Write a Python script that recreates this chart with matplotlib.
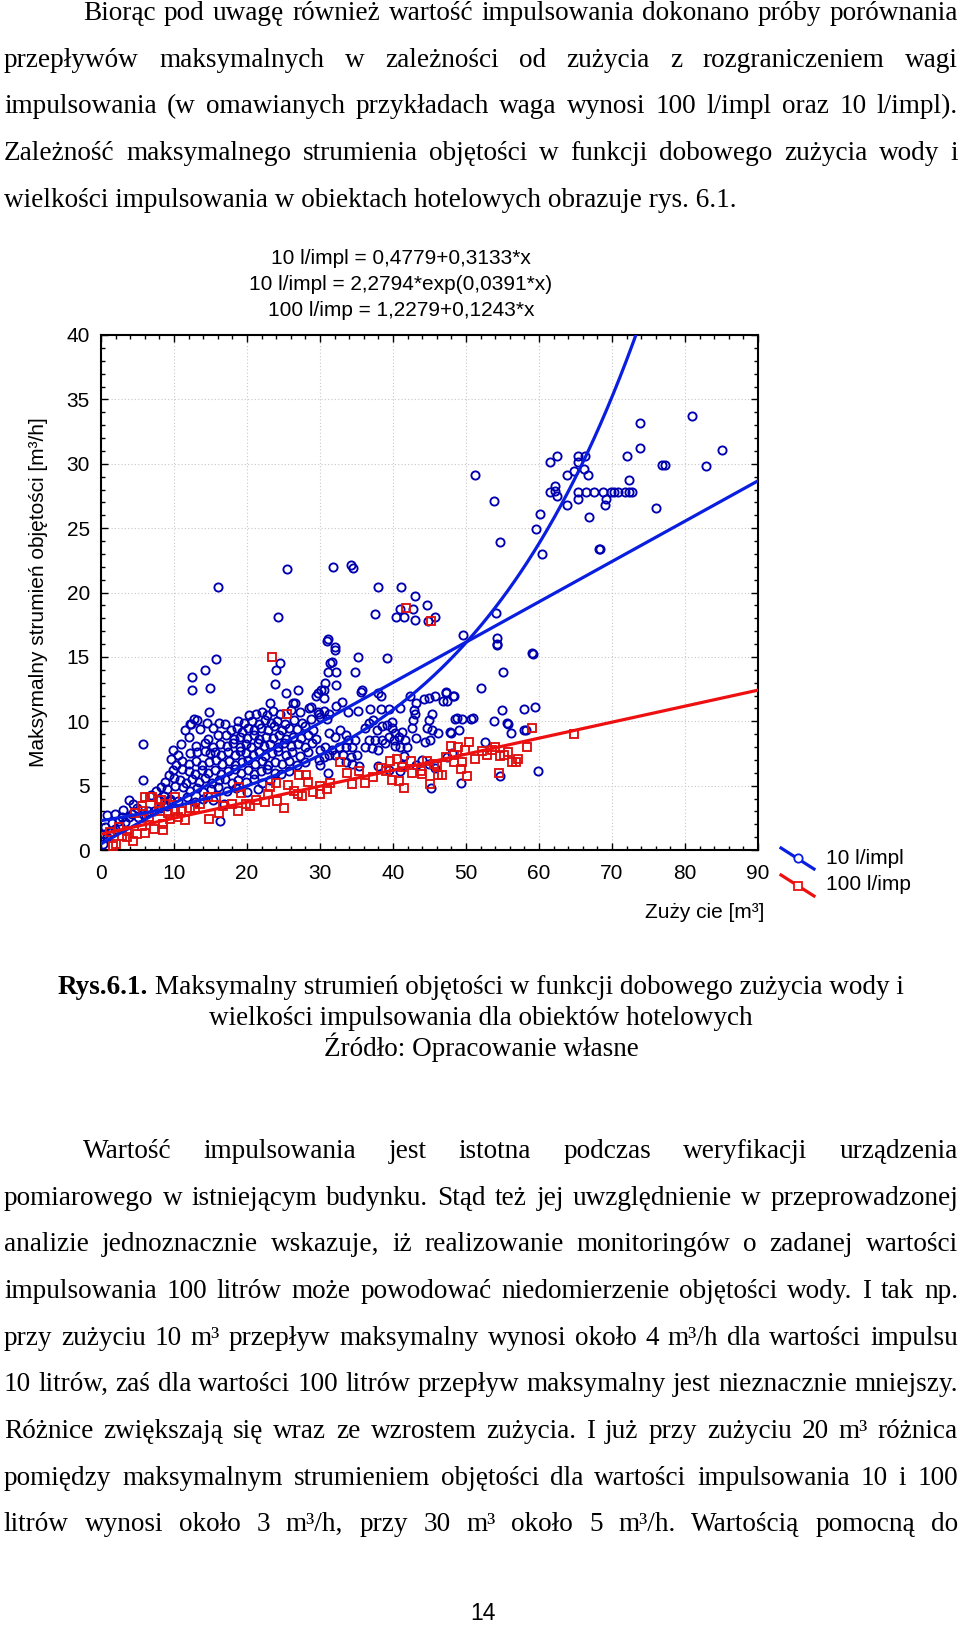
import matplotlib
matplotlib.use('Agg')
import matplotlib.pyplot as plt
from matplotlib.lines import Line2D
from matplotlib.ticker import MultipleLocator
import numpy as np

# ---------------- data ----------------
blue_upper = [(80.9,33.7),(73.9,33.2),(73.8,31.2),(85.1,31.1),(72.0,30.6),(72.3,28.7),(76.8,29.9),(77.3,29.9),
    (82.9,29.8),(76.0,26.6),(68.3,23.4),(51.3,29.1),(53.9,27.1),(54.6,23.9),(61.5,30.1),(62.5,30.6),(62.2,28.3),
    (62.2,27.9),(61.5,27.8),(62.5,27.5),(63.9,29.1),(64.8,29.4),(65.4,30.6),(66.3,30.6),(65.4,30.1),(66.2,29.6),
    (66.7,29.1),(65.4,27.8),(65.4,27.3),(66.4,27.8),(67.6,27.8),(68.8,27.8),(69.9,27.8),(70.3,27.8),(70.8,27.8),
    (71.8,27.8),(72.3,27.8),(72.7,27.8),(69.2,27.3),(69.0,26.8),(63.9,26.8),(66.9,25.9),(60.1,26.1),(59.6,24.9),
    (60.4,23.0),(68.2,23.4)]
blue_mid_high = [(16.0,20.4),(25.5,21.8),(31.8,22.0),(34.3,22.1),(34.5,21.9),(37.9,20.4),(41.1,20.4),(43.0,19.7),
    (44.6,19.0),(24.3,18.1),(37.6,18.3),(40.4,18.1),(41.5,18.1),(40.9,18.75),(42.7,18.7),(43.0,17.9),(44.8,17.8),
    (45.8,18.1),(49.6,16.7),(54.3,16.5),(54.3,16.0),(54.1,18.4),(59.2,15.2),(15.7,14.8),(14.2,14.0),(12.4,13.4),
    (12.4,12.4),(14.9,12.6),(14.8,10.75),(12.8,10.2),(12.2,9.8),(24.5,14.5),(24.0,14.0),(23.8,12.9),(25.4,12.2),
    (27.0,12.4),(23.2,11.4),(26.3,11.4),(26.6,11.4),(29.5,12.0),(30.1,12.4),(28.8,11.1),(29.7,10.7),(5.7,8.2),
    (5.7,5.4),(16.3,2.25),(47.3,12.25),(48.2,12.0),(52.0,12.6),(55.0,13.8),(58.0,10.95),(59.4,11.1),(54.9,10.9)]
blue_mid = [(30.9,16.2),(32.1,15.8),(32.0,15.5),(31.4,14.5),(31.7,14.6),(31.1,13.85),(32.2,13.8),(35.2,15.0),
    (39.2,14.9),(34.8,13.8),(32.2,12.8),(30.7,13.0),(30.6,12.4),(35.8,12.4),(29.7,12.2),(30.5,11.8),(38.0,12.2),
    (38.4,12.0),(33.0,11.5),(32.2,11.2),(29.8,10.6),(30.5,10.8),(31.2,10.6),(30.0,10.3),(31.0,10.2),(33.9,10.75),
    (35.2,10.8),(36.9,10.95),(38.3,10.95),(39.4,10.95),(41.0,11.0),(42.3,12.0),(43.1,11.45),(44.2,11.7),(44.9,11.8),
    (45.7,11.96),(47.2,12.2),(47.4,11.6),(48.3,11.96),(46.9,11.6),(42.9,10.9),(43.0,10.6),(42.8,10.1),(42.6,9.5),
    (45.3,10.6),(44.9,10.1),(48.5,10.2),(49.5,10.2),(50.7,10.2),(49.1,9.3),(47.8,9.2),(44.6,9.45),(45.4,9.3),
    (46.1,9.1),(43.1,8.7),(44.4,8.4),(45.1,8.55),(54.2,15.9),(59.1,15.3),(53.8,10.0),(55.6,9.9),(56.1,9.06),
    (57.9,9.3),(58.2,9.3),(52.6,8.4),(59.9,6.14),(54.7,5.75),(49.3,5.2),(45.2,4.85),(37.3,10.1),(36.7,9.84),
    (36.2,9.45),(37.8,9.3),(38.5,9.6),(39.2,9.7),(39.9,9.97),(39.9,9.45),(40.3,9.06),(39.4,8.8),(38.5,8.55),
    (37.6,8.55),(36.7,8.55),(36.2,8.0),(37.1,7.9),(38.0,7.77),(38.9,8.3),(40.1,8.55),(40.8,8.8),(41.2,9.2),
    (41.7,8.55),(41.0,8.0),(40.3,8.1),(41.5,7.3),(41.9,8.0),(31.2,9.06),(32.1,8.8),(32.8,9.3),(33.5,8.9),
    (33.9,8.55),(34.8,8.55),(34.4,8.0),(33.5,8.0),(32.6,8.0),(31.6,7.77),(30.7,8.0),(30.0,7.77),(31.2,7.38),
    (30.5,7.25),(29.8,7.0),(32.1,7.38),(33.2,7.38),(34.2,7.25),(35.1,7.38),(35.3,6.5),(34.4,6.7),(33.5,6.86),
    (30.0,6.6),(31.1,5.96),(38.0,6.5),(39.4,6.2),(41.0,6.1),(41.2,6.6),(43.1,6.6),(44.0,7.0),(44.9,6.7),
    (45.8,6.35),(47.4,7.25),(48.1,7.5),(51.0,10.25),(48.8,10.25),(47.9,9.1),(55.7,9.75),(35.6,12.3),(31.1,16.4)]
blue_dense = [(20.3,10.5),(21.2,10.6),(22.0,10.7),(22.8,10.5),(23.6,10.8),(24.5,10.6),(26.0,10.9),(27.3,10.7),
    (28.5,11.0),(12.3,9.8),(13.1,10.1),(14.5,9.9),(16.2,9.9),(17.0,9.8),(18.8,10.0),(19.6,9.9),(20.7,10.0),
    (21.6,9.8),(22.4,10.1),(23.3,9.9),(24.1,10.0),(25.2,9.8),(26.4,10.1),(27.6,9.9),(28.8,10.2),(11.5,9.3),
    (13.5,9.4),(15.4,9.5),(17.8,9.3),(18.6,9.5),(19.3,9.2),(20.2,9.5),(21.0,9.3),(21.9,9.5),(22.9,9.3),(23.7,9.6),
    (24.8,9.3),(25.8,9.5),(26.9,9.4),(28.0,9.6),(29.1,9.3),(12.0,8.8),(14.6,8.6),(16.0,8.9),(17.1,8.9),(18.2,8.6),
    (19.1,8.8),(20.0,8.7),(20.9,8.9),(21.7,8.6),(22.6,8.8),(23.5,8.7),(24.4,8.9),(25.4,8.6),(26.3,8.8),(27.4,8.7),
    (28.4,8.9),(29.4,8.6),(9.8,7.8),(11.0,8.2),(13.0,8.1),(14.2,8.3),(15.3,8.0),(16.3,8.2),(17.3,8.1),(18.1,8.3),
    (19.0,8.0),(19.8,8.2),(20.6,8.0),(21.5,8.3),(22.3,8.1),(23.2,8.2),(24.2,8.0),(25.1,8.3),(26.0,8.1),(27.0,8.2),
    (28.0,8.0),(28.9,8.3),(10.5,7.4),(12.2,7.5),(13.2,7.6),(14.2,7.7),(14.9,7.5),(15.6,7.6),(16.5,7.4),(17.4,7.6),
    (18.3,7.4),(19.1,7.7),(19.9,7.5),(20.8,7.4),(21.6,7.6),(22.5,7.3),(23.4,7.5),(24.3,7.7),(25.3,7.4),(26.2,7.6),
    (27.2,7.3),(28.3,7.6),(11.1,6.9),(12.0,6.7),(13.0,6.9),(13.9,6.6),(14.8,6.8),(15.7,7.0),(16.6,6.7),(17.5,6.9),
    (18.4,6.6),(19.3,6.8),(20.2,7.0),(21.1,6.7),(22.0,6.9),(22.9,6.6),(23.8,6.8),(24.8,6.7),(25.7,6.9),(26.8,6.6),
    (28.0,6.8),(11.1,6.3),(12.1,6.1),(12.9,5.9),(13.8,6.2),(14.7,6.0),(15.6,6.2),(16.5,5.9),(17.4,6.1),(18.3,6.3),
    (19.2,6.0),(20.1,6.2),(21.0,5.9),(21.9,6.1),(22.8,6.3),(23.8,6.0),(24.7,5.9),(25.8,6.1),(10.8,5.4),(11.6,5.2),
    (12.5,5.5),(13.4,5.3),(14.3,5.6),(15.2,5.2),(16.1,5.4),(17.0,5.5),(17.9,5.2),(18.8,5.4),(19.8,5.3),(20.9,5.5),
    (22.1,5.2),(23.2,5.4),(10.1,5.0),(11.3,4.9),(12.2,4.6),(13.1,4.8),(14.0,4.5),(15.0,4.7),(16.0,4.9),(17.2,4.6),
    (18.5,4.8),(20.0,4.5),(21.5,4.7),(9.5,4.0),(10.6,3.8),(11.8,4.1),(12.9,3.7),(14.0,4.0),(15.3,3.9),(16.8,3.6),
    (6.8,4.3),(7.5,4.6),(8.2,4.9),(8.8,5.3),(9.3,5.8),(9.9,6.2),(7.9,3.9),(8.6,4.2),(9.1,4.7),(10.0,5.6),(10.3,6.6),
    (9.6,7.1)]
blue_low = [(0.8,2.7),(0.6,1.76),(0.36,1.24),(0.8,0.98),(1.3,1.37),(1.95,1.63),(2.6,1.9),(2.4,2.28),(3.3,2.15),
    (3.8,2.54),(4.2,2.8),(5.1,2.54),(5.8,2.8),(6.5,3.06),(7.2,3.06),(8.1,3.3),(9.0,3.45),(9.45,3.83),(1.95,2.8),
    (2.9,2.54),(3.8,3.9),(4.9,3.3),(0.3,0.5),(1.5,2.1),(3.0,3.1),(4.4,3.6)]
red_pts = [(64.8,9.0),(59.0,9.45),(58.4,8.0),(57.1,7.05),(56.8,6.8),(56.3,6.8),(55.8,7.6),(55.2,7.4),(54.7,7.3),
    (54.0,8.0),(53.6,7.77),(52.9,7.38),(51.3,7.07),(50.4,8.4),(49.9,7.8),(50.1,5.75),(49.3,6.3),(49.5,6.8),
    (48.9,8.0),(48.0,8.1),(48.3,6.8),(48.4,7.4),(47.2,7.25),(46.7,5.85),(46.2,5.85),(46.0,6.5),(45.6,6.7),
    (54.5,6.0),(44.6,6.94),(43.8,6.16),(45.0,5.13),(42.6,6.0),(41.5,4.85),(40.8,5.36),(41.2,6.47),(40.5,7.04),
    (39.6,6.94),(39.0,6.16),(38.3,6.35),(36.2,5.23),(33.7,6.0),(32.8,6.8),(31.4,5.18),(30.96,4.7),(30.0,4.35),
    (30.0,5.0),(41.8,18.8),(45.2,17.8),(23.4,15.0),(25.5,10.6),(18.9,4.9),(27.1,5.8),(28.1,5.8),(28.3,5.3),
    (23.2,4.9),(24.0,5.2),(25.6,5.05),(22.9,4.35),(27.0,4.35),(27.6,4.2),(24.1,3.8),(25.1,3.26),(22.4,3.7),
    (20.4,3.45),(19.9,3.6),(18.8,3.06),(17.9,3.6),(16.7,3.4),(15.8,4.15),(14.7,4.15),(14.8,2.4),(12.9,3.3),
    (12.2,3.3),(11.5,2.3),(10.6,2.6),(10.1,4.1),(10.1,3.06),(9.45,2.4),(8.5,2.0),(8.5,1.55),(7.2,1.6),(6.0,1.3),
    (5.6,1.9),(4.9,1.25),(4.45,0.73),(3.5,0.98),(2.9,1.1),(2.0,0.47),(1.7,0.34),(6.0,4.1),(6.7,4.1),(5.6,3.45),
    (4.6,2.9),(7.9,3.37),(8.1,3.06),(8.8,3.6),(5.8,3.06),(7.0,4.1),(8.2,3.9),(3.6,1.5),(2.4,1.8),(1.2,1.4),
    (6.6,2.6),(9.2,2.9),(11.0,3.0),(13.6,3.6),(16.2,2.9),(19.2,4.4),(21.3,3.9),(26.4,4.6),(29.0,4.5),(34.4,5.1),
    (35.4,6.1),(37.2,5.7),(39.8,5.4),(44.0,5.9),(42.4,6.9),(52.2,7.7)]

lin10 = (0.4779, 0.3133)
exp10 = (2.2794, 0.0391)
lin100 = (1.2279, 0.1243)
eq_labels = ["10 l/impl = 0,4779+0,3133*x", "10 l/impl = 2,2794*exp(0,0391*x)", "100 l/imp = 1,2279+0,1243*x"]
series_names = ["10 l/impl", "100 l/imp"]
x_ticks = list(range(0, 91, 10))
y_ticks = list(range(0, 41, 5))
x_label = "Zuży cie [m³]"
y_label = "Maksymalny strumień objętości [m³/h]"

para1 = ["Biorąc pod uwagę również wartość impulsowania dokonano próby porównania",
         "przepływów maksymalnych w zależności od zużycia z rozgraniczeniem wagi",
         "impulsowania (w omawianych przykładach waga wynosi 100 l/impl oraz 10 l/impl).",
         "Zależność maksymalnego strumienia objętości w funkcji dobowego zużycia wody i",
         "wielkości impulsowania w obiektach hotelowych obrazuje rys. 6.1."]
caption_bold = "Rys.6.1."
caption = ["Maksymalny strumień objętości w funkcji dobowego zużycia wody i",
           "wielkości impulsowania dla obiektów hotelowych",
           "Źródło: Opracowanie własne"]
para2 = ["Wartość impulsowania jest istotna podczas weryfikacji urządzenia",
         "pomiarowego w istniejącym budynku. Stąd też jej uwzględnienie w przeprowadzonej",
         "analizie jednoznacznie wskazuje, iż realizowanie monitoringów o zadanej wartości",
         "impulsowania 100 litrów może powodować niedomierzenie objętości wody. I tak np.",
         "przy zużyciu 10 m³ przepływ maksymalny wynosi około 4 m³/h dla wartości impulsu",
         "10 litrów, zaś dla wartości 100 litrów przepływ maksymalny jest nieznacznie mniejszy.",
         "Różnice zwiększają się wraz ze wzrostem zużycia. I już przy zużyciu 20 m³ różnica",
         "pomiędzy maksymalnym strumieniem objętości dla wartości impulsowania 10 i 100",
         "litrów wynosi około 3 m³/h, przy 30 m³ około 5 m³/h. Wartością pomocną do"]
page_no = "14"

# ---------------- figure ----------------
W, H = 960, 1625
plt.rcParams['font.family'] = ['Liberation Sans', 'DejaVu Sans']
plt.rcParams['font.size'] = 15
fig = plt.figure(figsize=(W / 100, H / 100), dpi=100)
fig.patch.set_facecolor('white')
renderer = fig.canvas.get_renderer()

SERIF = ['Liberation Serif', 'DejaVu Serif']
SANS = ['Liberation Sans', 'DejaVu Sans']


def fx(x):
    return x / W


def fy(y):
    return 1 - y / H


def measure(s, size, family, weight='normal'):
    t = fig.text(0, 0, s, fontsize=size, family=family, weight=weight)
    w = t.get_window_extent(renderer).width
    t.remove()
    return w


def fit_size(s, target, family, weight='normal'):
    return 20 * target / measure(s, 20, family, weight)


def put_line(s, x0, x1, y, size, justify=True, family=SERIF):
    words = s.split(' ')
    if not justify or len(words) == 1:
        fig.text(fx(x0), fy(y), s, fontsize=size, family=family, ha='left', va='baseline')
        return
    widths = [measure(w, size, family) for w in words]
    gap = (x1 - x0 - sum(widths)) / (len(words) - 1)
    x = x0
    for w, wd in zip(words, widths):
        fig.text(fx(x), fy(y), w, fontsize=size, family=family, ha='left', va='baseline')
        x += wd + gap


LEFT, RIGHT, INDENT = 4, 958, 83
LS = 46.65
# body font: as large as the reference, but no justified line may overflow
cands = [fit_size(para1[-1], 732, SERIF)]
for i, line in enumerate(para1[:-1] + para2):
    first = (i == 0 or i == len(para1) - 1)
    avail = (RIGHT - (INDENT if first else LEFT)) - 6
    cands.append(fit_size(line, avail, SERIF))
body_size = min(cands)

# paragraph 1
base = 20
for i, line in enumerate(para1):
    x0 = INDENT if i == 0 else LEFT
    put_line(line, x0, RIGHT, base + i * LS, body_size, justify=(i < len(para1) - 1))

# caption
cap_size = fit_size(caption[1], 543, SERIF)
sp = measure('a a', cap_size, SERIF) - measure('aa', cap_size, SERIF)
wb = measure(caption_bold, cap_size, SERIF, 'bold')
wr = measure(caption[0], cap_size, SERIF)
cx = 481
x0 = cx - (wb + sp + wr) / 2
fig.text(fx(x0), fy(994), caption_bold, fontsize=cap_size, family=SERIF, weight='bold', ha='left', va='baseline')
fig.text(fx(x0 + wb + sp), fy(994), caption[0], fontsize=cap_size, family=SERIF, ha='left', va='baseline')
fig.text(fx(cx), fy(1025), caption[1], fontsize=cap_size, family=SERIF, ha='center', va='baseline')
fig.text(fx(cx), fy(1056), caption[2], fontsize=cap_size, family=SERIF, ha='center', va='baseline')

# paragraph 2
base2 = 1158
for i, line in enumerate(para2):
    x0 = INDENT if i == 0 else LEFT
    put_line(line, x0, RIGHT, base2 + i * LS, body_size, justify=True)

fig.text(fx(483), fy(1614), page_no, fontsize=16.5, family=SANS, ha='center', va='center')

# ---------------- chart ----------------
ax_l, ax_r, ax_t, ax_b = 101, 758, 335, 850
ax = fig.add_axes([fx(ax_l), fy(ax_b), (ax_r - ax_l) / W, (ax_b - ax_t) / H])
ax.set_xlim(0, 90)
ax.set_ylim(0, 40)

BLUE_M = '#0000b0'
BLUE_L = '#0a1ee0'
RED_M = '#e01010'
RED_L = '#ee1010'

blue_all = np.array(blue_upper + blue_mid_high + blue_mid + blue_dense + blue_low)
red_all = np.array(red_pts)
ax.plot(blue_all[:, 0], blue_all[:, 1], 'o', ms=5.9, mfc='none', mec=BLUE_M, mew=1.35, zorder=3)
ax.plot(red_all[:, 0], red_all[:, 1], 's', ms=5.7, mfc='none', mec=RED_M, mew=1.35, zorder=4)

xf = np.linspace(0, 90, 400)
ax.plot(xf, lin10[0] + lin10[1] * xf, color=BLUE_L, lw=2.3, zorder=5)
ax.plot(xf, exp10[0] * np.exp(exp10[1] * xf), color=BLUE_L, lw=2.3, zorder=5)
ax.plot(xf, lin100[0] + lin100[1] * xf, color=RED_L, lw=2.3, zorder=6)

ax.set_xticks(x_ticks)
ax.set_yticks(y_ticks)
ax.xaxis.set_minor_locator(MultipleLocator(2))
ax.yaxis.set_minor_locator(MultipleLocator(1))
ax.tick_params(which='both', direction='in', top=True, right=True, colors='black', width=1)
ax.tick_params(which='major', length=5, labelsize=15)
ax.tick_params(axis='x', which='major', pad=10)
ax.tick_params(axis='y', which='major', pad=8)
ax.tick_params(which='minor', length=3)
ax.grid(True, which='major', linestyle=(0, (1, 2)), color='#c8c8c8', lw=0.8, zorder=0)
for s in ax.spines.values():
    s.set_linewidth(1.5)
    s.set_color('black')

# equations above chart
for i, t in enumerate(eq_labels):
    fig.text(fx(401), fy(259 + i * 26), t, fontsize=15, family=SANS, ha='center', va='center')

fig.text(fx(39), fy(592), y_label, fontsize=15, family=SANS, rotation=90, ha='center', va='center')
fig.text(fx(705), fy(912), x_label, fontsize=15, family=SANS, ha='center', va='center')

# legend (Statistica-style slanted sample lines)
leg = [(BLUE_L, 'o', 848, 869, series_names[0], 859), (RED_L, 's', 875, 896, series_names[1], 885)]
for col, mk, y0, y1, name, ty in leg:
    fig.add_artist(Line2D([fx(781), fx(814)], [fy(y0), fy(y1)], color=col, lw=2.3, transform=fig.transFigure))
    fig.add_artist(Line2D([fx(797.5)], [fy((y0 + y1) / 2)], marker=mk, ms=6, mfc='white', mec=col, mew=1.3,
                          ls='none', transform=fig.transFigure))
    fig.text(fx(826), fy(ty), name, fontsize=15, family=SANS, ha='left', va='center')

fig.savefig('out.png', dpi=100, facecolor='white')
